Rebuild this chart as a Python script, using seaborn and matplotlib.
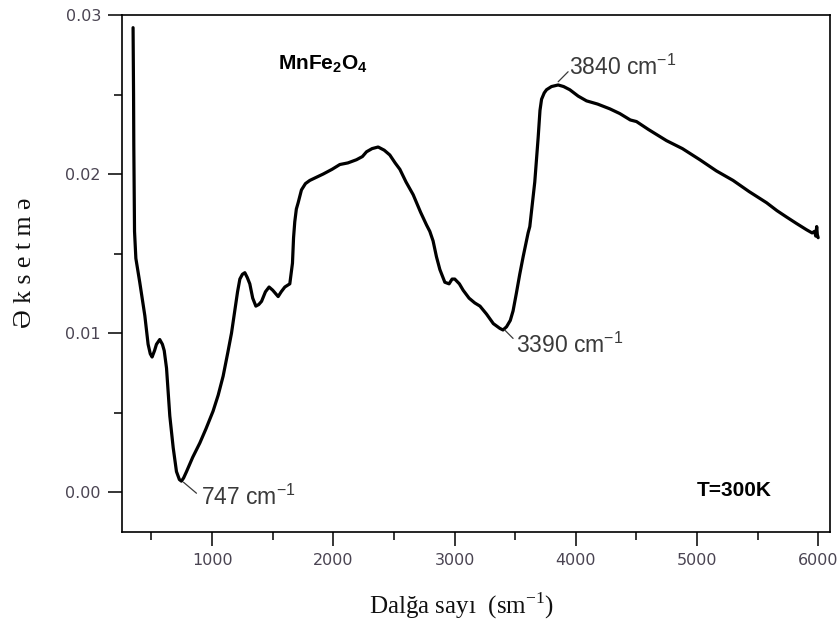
import numpy as np
import pandas as pd
import matplotlib
matplotlib.use("Agg")
import matplotlib.pyplot as plt
from matplotlib.ticker import MultipleLocator
import seaborn as sns

# wavenumber (cm^-1) and reflection values
wavenumber = [348, 352, 354, 358, 360, 371, 403, 445, 472, 490, 505, 525, 541, 568,
              590, 605, 624, 651, 679, 706, 730, 747, 765, 789, 840, 899, 950, 1008,
              1050, 1091, 1130, 1160, 1187, 1210, 1229, 1250, 1270, 1290, 1311, 1335,
              1361, 1385, 1408, 1440, 1470, 1500, 1545, 1570, 1600, 1641, 1663, 1672,
              1682, 1695, 1710, 1737, 1770, 1806, 1860, 1916, 1990, 2054, 2120, 2191,
              2240, 2274, 2320, 2370, 2420, 2466, 2510, 2549, 2600, 2659, 2720, 2769,
              2796, 2823, 2851, 2879, 2920, 2955, 2980, 3002, 3040, 3071, 3120, 3167,
              3210, 3264, 3320, 3374, 3400, 3429, 3460, 3483, 3510, 3538, 3566, 3607,
              3621, 3640, 3662, 3690, 3705, 3718, 3740, 3759, 3800, 3855, 3900, 3951,
              4020, 4089, 4180, 4281, 4364, 4450, 4501, 4600, 4749, 4880, 5024, 5160,
              5298, 5430, 5574, 5660, 5739, 5820, 5904, 5950, 5970, 5980, 5988, 5993,
              6000]
reflection = [0.0292, 0.0250, 0.0218, 0.0180, 0.0164, 0.0147, 0.0132, 0.0111, 0.0093,
              0.0087, 0.0085, 0.0089, 0.0093, 0.0096, 0.0093, 0.0089, 0.0078, 0.0048,
              0.0028, 0.0013, 0.0008, 0.0007, 0.0009, 0.0013, 0.0022, 0.0031, 0.0040,
              0.0051, 0.0061, 0.0073, 0.0088, 0.0100, 0.0114, 0.0126, 0.0134, 0.0137,
              0.0138, 0.0135, 0.0131, 0.0122, 0.0117, 0.0118, 0.0120, 0.0126, 0.0129,
              0.0127, 0.0123, 0.0126, 0.0129, 0.0131, 0.0144, 0.0160, 0.0170, 0.0178,
              0.0182, 0.0190, 0.0194, 0.0196, 0.0198, 0.0200, 0.0203, 0.0206, 0.0207,
              0.0209, 0.0211, 0.0214, 0.0216, 0.0217, 0.0215, 0.0212, 0.0207, 0.0203,
              0.0195, 0.0187, 0.0176, 0.0168, 0.0164, 0.0158, 0.0148, 0.0140, 0.0132,
              0.0131, 0.0134, 0.0134, 0.0131, 0.0127, 0.0122, 0.0119, 0.0117, 0.0112,
              0.0106, 0.0103, 0.0102, 0.0104, 0.0108, 0.0114, 0.0125, 0.0137, 0.0148,
              0.0163, 0.0167, 0.0180, 0.0195, 0.0223, 0.0240, 0.0247, 0.0251, 0.0253,
              0.0255, 0.0256, 0.0255, 0.0253, 0.0249, 0.0246, 0.0244, 0.0241, 0.0238,
              0.0234, 0.0233, 0.0228, 0.0221, 0.0216, 0.0209, 0.0202, 0.0196, 0.0189,
              0.0182, 0.0177, 0.0173, 0.0169, 0.0165, 0.0163, 0.0164, 0.0161, 0.0167,
              0.0162, 0.0160]

df = pd.DataFrame({"wn": wavenumber, "r": reflection})

sns.set_theme(style="ticks")
plt.rcParams["font.family"] = ["DejaVu Sans"]
plt.rcParams["mathtext.fontset"] = "custom"
plt.rcParams["mathtext.rm"] = "Liberation Sans"
plt.rcParams["mathtext.bf"] = "Liberation Sans:bold"

fig = plt.figure(figsize=(8.4, 6.23), dpi=100)
ax = fig.add_axes([0.145, 0.146, 0.843, 0.83])

sns.lineplot(data=df, x="wn", y="r", ax=ax, color="black", linewidth=2.3,
             estimator=None, sort=False)

ax.set_xlim(255, 6097)
ax.set_ylim(-0.0025, 0.03)
ax.xaxis.set_major_locator(MultipleLocator(1000))
ax.xaxis.set_minor_locator(MultipleLocator(500))
ax.yaxis.set_major_locator(MultipleLocator(0.01))
ax.yaxis.set_minor_locator(MultipleLocator(0.005))
ax.yaxis.set_major_formatter(lambda v, p: f"{v:.2f}")
ax.tick_params(which="major", direction="out", length=10, width=1.1, colors="black",
               labelcolor="#4a4452", labelsize=11.5, pad=5)
ax.tick_params(which="minor", direction="out", length=6, width=1.1, colors="black")
for s in ax.spines.values():
    s.set_visible(True)
    s.set_linewidth(1.2)
    s.set_color("black")

serif = ["Liberation Serif", "DejaVu Serif"]
ax.set_xlabel(r"Dalğa sayı  (sm$^{\mathregular{-1}}$)", fontsize=18, family=serif,
              color="#111111", va="center")
ax.xaxis.set_label_coords(0.48, -0.143)
ax.set_ylabel("Ə k s e t m ə", fontsize=18.5, family=serif, color="#111111",
              va="center")
ax.yaxis.set_label_coords(-0.137, 0.52)

# annotations
ax.text(1543, 0.0269, r"$\mathbf{MnFe_2O_4}$", fontsize=15, va="center", ha="left",
        color="black")
ax.text(4997, 0.00013, "T=300K", fontsize=15, fontweight="bold", va="center",
        ha="left", family=["Liberation Sans"], color="black")

ann_color = "#3a3a3a"
ax.plot([764, 871], [0.00063, -0.00006], color=ann_color, linewidth=0.9)
ax.text(905, -0.0003, r"747 cm$^{\mathregular{-1}}$", fontsize=16.5, va="center",
        ha="left", family=["Liberation Sans"], color=ann_color)
ax.plot([3414, 3483], [0.0102, 0.00967], color=ann_color, linewidth=0.9)
ax.text(3505, 0.00925, r"3390 cm$^{\mathregular{-1}}$", fontsize=16.5, va="center",
        ha="left", family=["Liberation Sans"], color=ann_color)
ax.plot([3855, 3937], [0.0258, 0.02643], color=ann_color, linewidth=0.9)
ax.text(3942, 0.0267, r"3840 cm$^{\mathregular{-1}}$", fontsize=16.5, va="center",
        ha="left", family=["Liberation Sans"], color=ann_color)

fig.savefig("out.png", dpi=100)
